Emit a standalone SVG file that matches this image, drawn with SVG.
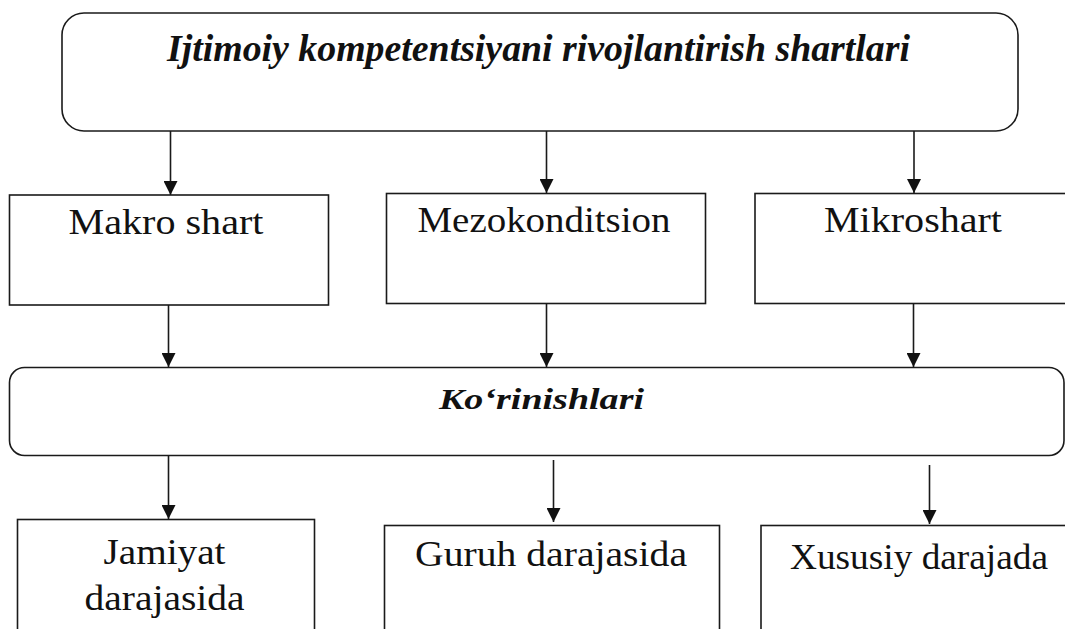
<svg xmlns="http://www.w3.org/2000/svg" width="1065" height="629" viewBox="0 0 1065 629">
<style>
.box{fill:#fff;stroke:#1a1a1a;stroke-width:1.6}
.con{stroke:#1a1a1a;stroke-width:1.6;fill:none}
.t{font-family:"Liberation Serif","Times New Roman",serif;fill:#111;text-anchor:middle}
.bi{font-weight:bold;font-style:italic}
.r{font-size:35px}
</style>
<defs>
<marker id="ah" markerUnits="userSpaceOnUse" markerWidth="14" markerHeight="14" viewBox="0 0 14 14" refX="14" refY="7" orient="auto">
<path d="M0,0 L14,7 L0,14 z" fill="#111"/>
</marker>
</defs>
<rect width="1065" height="629" fill="#fff"/>
<g id="connectors">
<line class="con" x1="170.5" y1="131" x2="170.5" y2="195" marker-end="url(#ah)"/>
<line class="con" x1="546.5" y1="131" x2="546.5" y2="193" marker-end="url(#ah)"/>
<line class="con" x1="914" y1="131" x2="914" y2="193" marker-end="url(#ah)"/>
<line class="con" x1="168.5" y1="305" x2="168.5" y2="367" marker-end="url(#ah)"/>
<line class="con" x1="546.5" y1="303" x2="546.5" y2="367" marker-end="url(#ah)"/>
<line class="con" x1="913.5" y1="303" x2="913.5" y2="367" marker-end="url(#ah)"/>
<line class="con" x1="168.5" y1="455" x2="168.5" y2="519" marker-end="url(#ah)"/>
<line class="con" x1="553.5" y1="460" x2="553.5" y2="522" marker-end="url(#ah)"/>
<line class="con" x1="929.5" y1="465" x2="929.5" y2="524" marker-end="url(#ah)"/>
</g>
<g id="title">
<rect class="box" x="62" y="13" width="956" height="118" rx="22"/>
<text class="t bi" x="538.5" y="61" font-size="37" textLength="743" lengthAdjust="spacingAndGlyphs">Ijtimoiy kompetentsiyani rivojlantirish shartlari</text>
</g>
<g id="makro">
<rect class="box" x="9.5" y="195" width="319" height="110"/>
<text class="t r" x="166" y="233.5" textLength="195" lengthAdjust="spacingAndGlyphs">Makro shart</text>
</g>
<g id="mezo">
<rect class="box" x="386.5" y="193.5" width="319" height="110"/>
<text class="t r" x="544" y="231.5" textLength="253" lengthAdjust="spacingAndGlyphs">Mezokonditsion</text>
</g>
<g id="mikro">
<rect class="box" x="755" y="193.5" width="320" height="110"/>
<text class="t r" x="913" y="231.5" textLength="178" lengthAdjust="spacingAndGlyphs">Mikroshart</text>
</g>
<g id="korinishlari">
<rect class="box" x="9.5" y="367.5" width="1054.5" height="88" rx="15"/>
<text class="t bi" x="541.5" y="409" font-size="30" textLength="205" lengthAdjust="spacingAndGlyphs">Ko‘rinishlari</text>
</g>
<g id="jamiyat">
<rect class="box" x="17.5" y="519.5" width="297" height="130"/>
<text class="t r" x="164.5" y="564" textLength="122" lengthAdjust="spacingAndGlyphs">Jamiyat</text>
<text class="t r" x="164.5" y="609.5" textLength="160" lengthAdjust="spacingAndGlyphs">darajasida</text>
</g>
<g id="guruh">
<rect class="box" x="384.5" y="525.5" width="335" height="130"/>
<text class="t r" x="551" y="566" textLength="272" lengthAdjust="spacingAndGlyphs">Guruh darajasida</text>
</g>
<g id="xususiy">
<rect class="box" x="761" y="525.5" width="320" height="130"/>
<text class="t r" x="919" y="568.5" textLength="258" lengthAdjust="spacingAndGlyphs">Xususiy darajada</text>
</g>
</svg>
